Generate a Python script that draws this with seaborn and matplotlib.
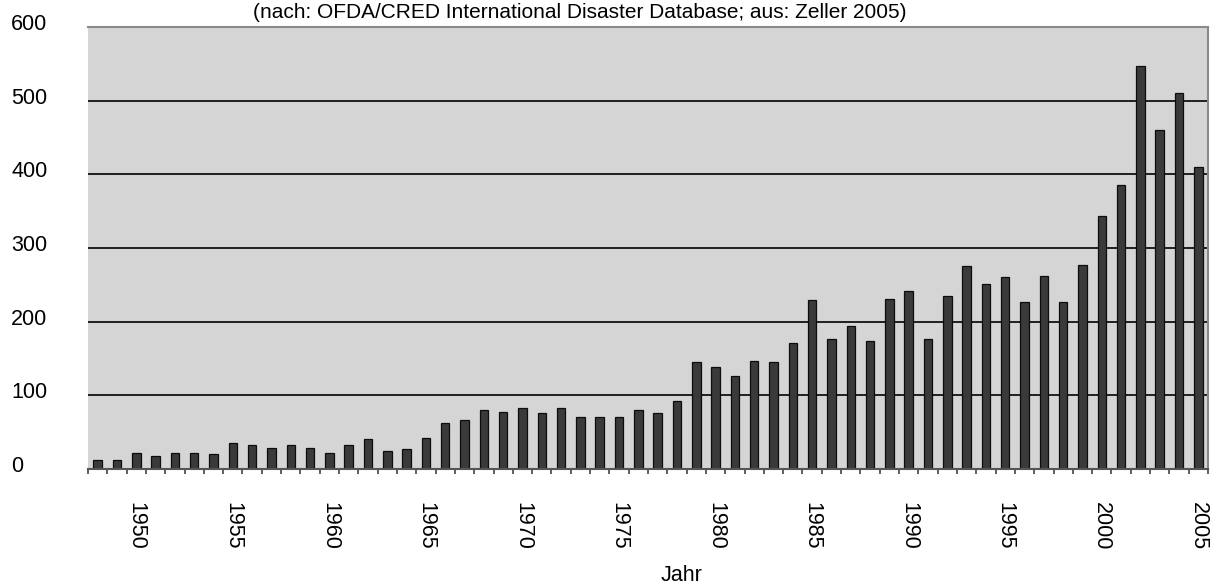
import matplotlib
matplotlib.use("Agg")
import matplotlib.pyplot as plt
from matplotlib.transforms import ScaledTranslation
import numpy as np
import pandas as pd
import seaborn as sns

# ---- data ----
years = [str(y) for y in range(1948, 2006)]
disasters = [12, 12, 22, 18, 22, 22, 20, 35, 33, 28,
             33, 28, 22, 33, 41, 25, 27, 42, 62, 66,
             80, 78, 83, 76, 83, 70, 71, 71, 80, 76,
             92, 145, 139, 126, 147, 145, 171, 229, 176, 194,
             174, 231, 242, 177, 235, 276, 251, 261, 227, 262,
             227, 277, 343, 386, 547, 460, 510, 410]
label_years = [str(y) for y in range(1945, 2010, 5)]
y_ticks = [0, 100, 200, 300, 400, 500, 600]
title = "(nach: OFDA/CRED International Disaster Database; aus: Zeller 2005)"
x_title = "Jahr"

df = pd.DataFrame({"Jahr": years, "Anzahl": disasters})

sns.set_theme(style="white")
plt.rcParams["font.family"] = ["Liberation Sans", "DejaVu Sans"]
plt.rcParams["text.color"] = "black"
plt.rcParams["axes.labelcolor"] = "black"
FS = 15.5

W, H = 1217, 586
fig = plt.figure(figsize=(W / 100, H / 100), dpi=100)
fig.patch.set_facecolor("white")
ax = fig.add_axes([88 / W, 1 - 469 / H, 1120 / W, 442 / H])
ax.set_facecolor("#d5d5d5")

sns.barplot(data=df, x="Jahr", y="Anzahl", order=years, color="#3a3a3a",
            saturation=1, width=0.44, edgecolor="#0d0d0d", linewidth=0.9,
            ax=ax)

ax.set_axisbelow(True)
ax.set_ylim(0, 600)
ax.set_xlim(0, len(years) - 1 + 0.46)
ax.set_yticks(y_ticks)
ax.yaxis.grid(True, color="#111111", linewidth=1.3)
ax.xaxis.grid(False)

# y tick labels: left aligned near figure edge, slightly above gridlines
ax.tick_params(axis="y", length=0, pad=(88 - 11) * 0.72, labelsize=FS,
               labelcolor="black")
off = ScaledTranslation(0, 5 / 100, fig.dpi_scale_trans)
for lab in ax.get_yticklabels():
    lab.set_horizontalalignment("left")
    lab.set_transform(lab.get_transform() + off)

# x ticks: labels every 5 years (where the category exists), marks between bars
pos = [years.index(y) for y in label_years if y in years]
labs = [y for y in label_years if y in years]
ax.set_xticks(pos)
ax.set_xticklabels(labs, rotation=-90, fontsize=FS, ha="center", va="top",
                   color="black")
ax.tick_params(axis="x", which="major", length=0, pad=33 * 0.72)
ax.set_xticks(np.arange(len(years) + 1) - 0.5, minor=True)
ax.tick_params(axis="x", which="minor", length=5 * 0.72, width=1.1,
               color="#333333", direction="out", bottom=True)

ax.set_xlabel(x_title, fontsize=FS, color="black")
ax.set_ylabel("")
ax.xaxis.set_label_coords((682 - 88) / 1120, -(565 - 469) / 442)

for s in ["top", "right"]:
    ax.spines[s].set_visible(True)
    ax.spines[s].set_color("#8a8a8a")
    ax.spines[s].set_linewidth(1.5)
ax.spines["left"].set_visible(False)
ax.spines["bottom"].set_color("#555555")
ax.spines["bottom"].set_linewidth(1.5)

fig.text(580 / W, 1 - 18 / H, title, ha="center", va="baseline",
         fontsize=FS - 0.5, color="black")

fig.savefig("out.png", dpi=100)
